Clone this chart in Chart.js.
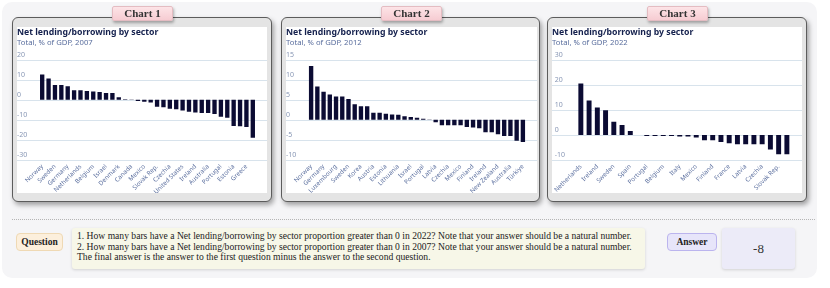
<!DOCTYPE html>
<html>
<head>
<meta charset="utf-8">
<script src="https://cdn.jsdelivr.net/npm/chart.js@4.4.0/dist/chart.umd.min.js"></script>
<style>
body{margin:0;width:830px;height:288px;background:#fff;position:relative;overflow:hidden;font-family:"Liberation Serif",serif}
.panel{position:absolute;left:2px;top:2px;width:815px;height:276px;background:#f5f5f7;border-radius:10px}
.card{position:absolute;top:17px;height:185px;box-sizing:border-box;background:#e4e4e4;border:1.5px solid #5c5c5c;border-radius:6px;box-shadow:2px 3px 5px rgba(0,0,0,.35)}
.inner{position:absolute;top:27px;height:166px;background:#fff}
.tab{position:absolute;top:6px;height:15px;width:61px;box-sizing:border-box;background:linear-gradient(#fde4e7,#f6ccd2);border:1px solid #e4bcc2;border-radius:2px;box-shadow:1px 2px 3px rgba(0,0,0,.3);font:bold 11px "Liberation Serif",serif;color:#333;text-align:center;line-height:13px;z-index:3}
.sep{position:absolute;left:12px;top:219px;width:803px;border-top:1px dotted #b5b5b5}
.pill{position:absolute;top:233px;height:18px;box-sizing:border-box;border-radius:4px;font:bold 9.5px "Liberation Serif",serif;color:#222;text-align:center;line-height:16px}
.qbox{position:absolute;left:72px;top:228px;width:573px;height:41px;box-sizing:border-box;background:#f7f7e8;border-radius:3px;box-shadow:0 1px 3px rgba(0,0,0,.15);padding:3px 0 0 5px;font-size:9.6px;line-height:10.5px;color:#222;white-space:nowrap}
.abox{position:absolute;left:722px;top:228px;width:73px;height:41px;background:#ecebf8;border-radius:3px;box-shadow:0 1px 3px rgba(0,0,0,.15);font:13px "Liberation Serif",serif;color:#333;text-align:center;line-height:41px}
</style>
</head>
<body>
<div class="panel"></div>
<div class="card" style="left:12px;width:260px"></div>
<div class="card" style="left:281px;width:259px"></div>
<div class="card" style="left:547px;width:260px"></div>
<div class="tab" style="left:112px">Chart 1</div>
<div class="tab" style="left:381px">Chart 2</div>
<div class="tab" style="left:647px">Chart 3</div>
<div class="inner" style="left:17px;width:250px"><canvas id="c1"></canvas></div>
<div class="inner" style="left:286px;width:251px"><canvas id="c2"></canvas></div>
<div class="inner" style="left:552px;width:250px"><canvas id="c3"></canvas></div>
<div class="sep"></div>
<div class="pill" style="left:16px;width:47px;background:#fcefdc;border:1px solid #efd9b4">Question</div>
<div class="qbox">1. How many bars have a Net lending/borrowing by sector proportion greater than 0 in 2022? Note that your answer should be a natural number.<br>2. How many bars have a Net lending/borrowing by sector proportion greater than 0 in 2007? Note that your answer should be a natural number.<br>The final answer is the answer to the first question minus the answer to the second question.</div>
<div class="pill" style="left:667px;width:50px;background:#e7e5fa;border:1px solid #bbb4ee">Answer</div>
<div class="abox">-8</div>
<script>
// 2007
const countries2007 = ['Norway','Switzerland','Sweden','Japan','Germany','Luxembourg','Netherlands','Finland','Belgium','Austria','Israel','Korea','Denmark','Chile','Canada','France','Mexico','Italy','Slovak Rep.','Poland','Czechia','Hungary','United States','Slovenia','Ireland','New Zealand','Australia','United Kingdom','Portugal','Spain','Estonia','Lithuania','Greece','Latvia']
const values2007 = [12.6, 10.6, 7.4, 7.4, 6.8, 4.8, 4.8, 4.4, 4.2, 3.9, 3.4, 3.4, 1.3, 0.3, 0.2, -0.6, -1.0, -1.3, -3.5, -3.7, -4.4, -4.7, -5.3, -6.0, -6.3, -6.6, -6.6, -7.1, -8.4, -9.0, -13.1, -13.2, -13.5, -18.9]
const ticks2007 = [-30, 20, 10]

// 2012
const countries2012 = ['Norway','Switzerland','Germany','Netherlands','Luxembourg','Denmark','Sweden','Japan','Korea','Hungary','Austria','Belgium','Estonia','Slovenia','Lithuania','Iceland','Israel','Italy','Portugal','Chile','Latvia','Canada','Czechia','Greece','Mexico','Colombia','Finland','Slovak Rep.','Ireland','Poland','New Zealand','United States','Australia','France','Türkiye']
const values2012 = [13.4, 8.3, 7.0, 6.3, 5.8, 5.8, 5.2, 3.9, 3.4, 3.4, 1.75, 1.75, 1.5, 1.35, 1.3, 0.9, 0.7, 0.55, 0.3, 0.1, -0.6, -1.35, -1.35, -1.35, -1.35, -1.8, -1.9, -2.1, -3.1, -3.1, -3.6, -4.0, -4.0, -5.2, -5.5]
const ticks2012 = [-10, 15, 5]

// 2022
const countries2022 = ['Netherlands','Korea','Ireland','Denmark','Sweden','Switzerland','Spain','Greece','Portugal','Germany','Belgium','Austria','Italy','Slovenia','Mexico','Lithuania','Finland','Estonia','France','United States','Latvia','Poland','Czechia','Hungary','Slovak Rep.','Colombia']
const values2022 = [20.5, 13.7, 10.9, 9.8, 5.3, 4.0, 1.6, 0, -0.4, -0.4, -0.4, -0.4, -0.6, -0.6, -1.0, -2.1, -2.1, -2.8, -3.3, -3.7, -3.7, -3.7, -3.7, -5.8, -7.7, -7.7]
const ticks2022 = [-10, 30, 10]

const navy = '#0b0b33'
const tickBlue = '#8796b4'
const labelBlue = '#5a6e9e'

// gridlines run across the whole white area, not only the plot
const fullGrid = {
    id:'fullGrid',
    beforeDatasetsDraw(chart){
        const {ctx, scales:{y}} = chart
        ctx.save()
        ctx.strokeStyle = '#d8e3ec'
        ctx.lineWidth = 1
        y.ticks.forEach(t=>{
            const py = Math.round(y.getPixelForValue(t.value)) + 0.5
            ctx.beginPath()
            ctx.moveTo(0, py)
            ctx.lineTo(chart.width, py)
            ctx.stroke()
        })
        ctx.restore()
    }
}

const makeChart = (id, labels, data, yt, year, barPct)=>{
    return new Chart(document.getElementById(id),{
        type:'bar',
        plugins:[fullGrid],
        data:{
            labels:labels,
            datasets:[{data:data, backgroundColor:navy, barPercentage:barPct, categoryPercentage:1}]
        },
        options:{
            responsive:true,
            maintainAspectRatio:false,
            animation:false,
            layout:{padding:{left:0, right:11, top:0, bottom:0}},
            plugins:{
                legend:{display:false},
                tooltip:{enabled:false},
                title:{
                    display:true, text:'Net lending/borrowing by sector', align:'start',
                    color:'#14204d', font:{family:'Noto Sans', size:8.7, weight:'bold'},
                    padding:{top:0, bottom:1}
                },
                subtitle:{
                    display:true, text:'Total, % of GDP, ' + year, align:'start',
                    color:labelBlue, font:{family:'Noto Sans', size:7.7},
                    padding:{top:0, bottom:12}
                }
            },
            scales:{
                x:{
                    grid:{display:false, drawTicks:false},
                    border:{display:false},
                    ticks:{
                        autoSkip:false, minRotation:45, maxRotation:45, padding:3,
                        color:labelBlue, font:{family:'Noto Sans', size:6.2},
                        callback:(v, i)=> i % 2 ? '' : labels[i]
                    },
                    afterFit:(s)=>{ s.height = 33 }
                },
                y:{
                    min:yt[0], max:yt[1],
                    grid:{display:false, drawTicks:false},
                    border:{display:false},
                    ticks:{
                        stepSize:yt[2], crossAlign:'far', labelOffset:-5, padding:0,
                        color:tickBlue, font:{family:'Noto Sans', size:7}
                    },
                    afterFit:(s)=>{ s.width = 22 }
                }
            }
        }
    })
}

makeChart('c1', countries2007, values2007, ticks2007, 2007, 0.68)
makeChart('c2', countries2012, values2012, ticks2012, 2012, 0.7)
makeChart('c3', countries2022, values2022, ticks2022, 2022, 0.6)
</script>
</body>
</html>
